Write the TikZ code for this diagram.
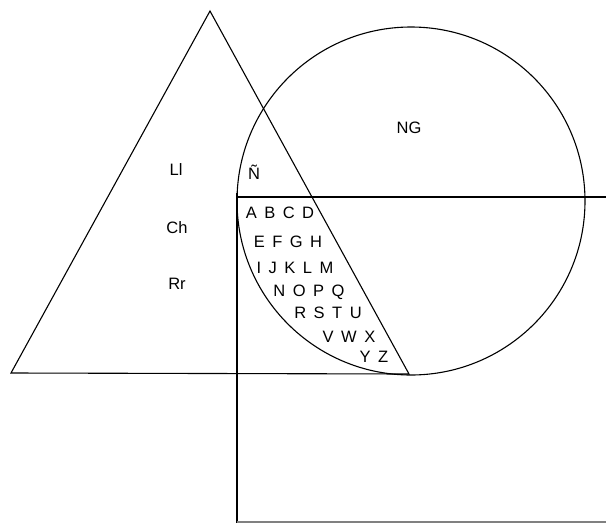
\documentclass[tikz,border=0pt]{standalone}
\usepackage{fontspec}
\setmainfont{Liberation Sans}
\begin{document}
\begin{tikzpicture}[x=1pt,y=-1pt,
  ln/.style={draw=black,line width=1.1pt},
  lbl/.style={inner sep=0pt,font=\fontsize{16.5}{18}\selectfont},
  row/.style={lbl,execute at begin node={\spaceskip=7.5pt\relax}}]
\useasboundingbox (0,0) rectangle (606,523);
% triangle
\coordinate (apex) at (210,11);
\coordinate (bl) at (11,373);
\coordinate (br) at (409,374);
\draw[ln] (bl) -- (apex) -- (br) -- cycle;
% circle
\node[ln,circle,minimum size=348pt,inner sep=0pt] (circ) at (411,201) {};
% axes
\coordinate (corner) at (237,197);
\coordinate (hr) at (606,197);
\coordinate (vb) at (237,523);
\coordinate (vt) at (237,193);
\draw[ln] (vt) -- (vb);
\draw[ln] (corner) -- (hr);
\coordinate (bb) at (606,522);
\draw[draw=gray,line width=1.1pt] (vb |- bb) -- (bb);
% labels
\node[lbl] (ll) at (176,170) {Ll};
\node[lbl] (ch) at (177,228) {Ch};
\node[lbl] (rr) at (177,284) {Rr};
\node[lbl] (ng) at (409,128) {NG};
\node[lbl] (nn) at (254,172) {Ñ};
\node[row] (r1) at (280,213) {A B C D};
\node[row] (r2) at (288,242) {E F G H};
\node[row] (r3) at (295,268) {I J K L M};
\node[row] (r4) at (309,292) {N O P Q};
\node[row] (r5) at (328,313) {R S T U};
\node[row] (r6) at (349,337) {V W X};
\node[row] (r7) at (374,357) {Y Z};
\end{tikzpicture}
\end{document}
